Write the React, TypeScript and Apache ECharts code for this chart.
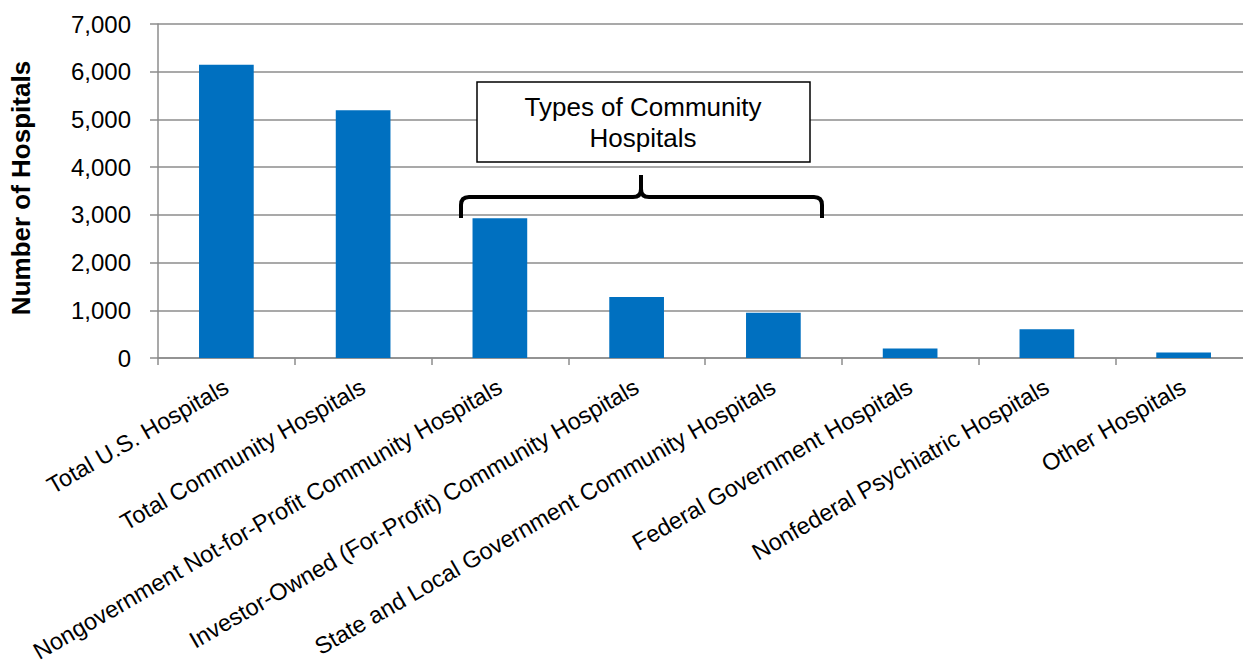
import React, { useEffect, useRef } from "react";
import * as echarts from "echarts";

const categories = [
  "Total U.S. Hospitals",
  "Total Community Hospitals",
  "Nongovernment Not-for-Profit Community Hospitals",
  "Investor-Owned (For-Profit) Community Hospitals",
  "State and Local Government Community Hospitals",
  "Federal Government Hospitals",
  "Nonfederal Psychiatric Hospitals",
  "Other Hospitals",
];
const hospitals = [6145, 5190, 2930, 1280, 950, 200, 605, 115];
const yTicks = { min: 0, max: 7000, interval: 1000 };
const yAxisTitle = "Number of Hospitals";
const annotationLines = ["Types of Community", "Hospitals"];

const bracePath =
  "M461,218 L461,205 Q461,197 469,197 L633,197 Q641,197 641,189 L641,175 M641,189 Q641,197 649,197 L814,197 Q822,197 822,205 L822,218";

let registered = false;
const FONT = "Liberation Sans, Arial, sans-serif";

export default function App() {
  const ref = useRef<HTMLDivElement>(null);
  useEffect(() => {
    if (!ref.current) return;
    if (!registered) {
      echarts.graphic.registerShape("brace", echarts.graphic.extendPath(bracePath, {}));
      registered = true;
    }
    const chart = echarts.init(ref.current, null, { renderer: "svg" });
    const gray = "#8c8c8c";
    chart.setOption({
      animation: false,
      backgroundColor: "#ffffff",
      textStyle: { fontFamily: FONT },
      grid: {
        left: 158,
        top: 24,
        bottom: 306,
        right: -9,
        containLabel: false,
        outerBoundsMode: "none",
      },
      xAxis: {
        type: "category",
        data: categories,
        boundaryGap: true,
        axisLine: { lineStyle: { color: gray, width: 1.5 } },
        axisTick: { show: true, length: 7, lineStyle: { color: gray, width: 1.5 } },
        axisLabel: {
          interval: 0,
          rotate: 30,
          margin: 27,
          fontSize: 23.5,
          color: "#000",
          fontFamily: FONT,
        },
      },
      yAxis: {
        type: "value",
        min: yTicks.min,
        max: yTicks.max,
        interval: yTicks.interval,
        name: yAxisTitle,
        nameLocation: "middle",
        nameGap: 124,
        nameRotate: 90,
        nameTextStyle: {
          fontSize: 26,
          fontWeight: "bold",
          color: "#000",
          fontFamily: FONT,
          padding: [0, 0, 0, 6],
        },
        axisLine: { show: true, lineStyle: { color: gray, width: 1.5 } },
        axisTick: { show: true, length: 8, lineStyle: { color: gray, width: 1.5 } },
        splitLine: { show: true, lineStyle: { color: gray, width: 1.5 } },
        axisLabel: {
          margin: 27,
          fontSize: 24,
          color: "#000",
          fontFamily: FONT,
          formatter: (v: number) => v.toLocaleString("en-US"),
        },
      },
      series: [
        {
          type: "bar",
          data: hospitals,
          barWidth: "40%",
          itemStyle: { color: "#0070C0" },
        },
      ],
      graphic: [
        {
          type: "rect",
          shape: { x: 477, y: 82, width: 333, height: 80 },
          style: { fill: "#fff", stroke: "#000", lineWidth: 1.5 },
          z: 100,
        },
        {
          type: "text",
          x: 643,
          y: 122,
          style: {
            text: annotationLines.join("\n"),
            fontSize: 26,
            lineHeight: 31,
            fill: "#000",
            align: "center",
            verticalAlign: "middle",
            fontFamily: FONT,
          },
          z: 101,
        },
        {
          type: "brace",
          x: 0,
          y: 0,
          style: { fill: "none", stroke: "#000", lineWidth: 4, lineJoin: "round", lineCap: "butt" },
          z: 100,
        },
      ],
    });
    return () => chart.dispose();
  }, []);
  return (
    <div
      ref={ref}
      style={{ position: "fixed", left: 0, top: 0, width: 1243, height: 664 }}
    />
  );
}
